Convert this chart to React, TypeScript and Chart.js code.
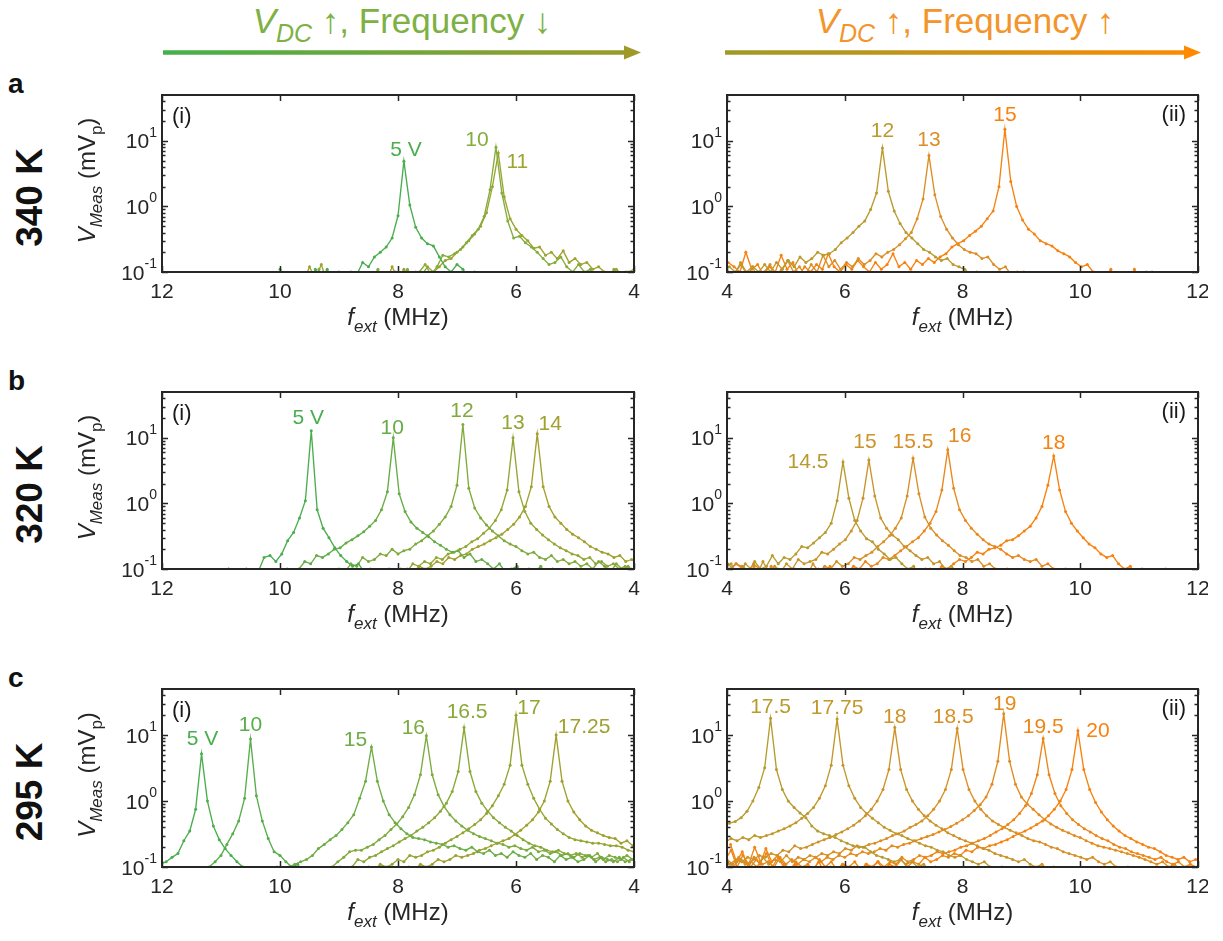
import React, { useEffect, useRef } from 'react';
import { Chart, registerables } from 'chart.js';

Chart.register(...registerables);

const FONT = '"Liberation Sans", Arial, Helvetica, sans-serif';
const AXIS = '#262626';
const FREQ_STEP = 0.1; // MHz between sweep points

// ---------------- 340 K ----------------
const a1Labels = ['5 V', '10', '11'];
const a1Start = [6.5, 4.04, 4.0];
const a1Values = [
  [0.07, 0.09, 0.1, 0.08, 0.11, 0.13, 0.1, 0.12, 0.17, 0.25, 0.27, 0.33, 0.48, 1.05, 4.9, 0.72, 0.33, 0.24, 0.2, 0.17, 0.12, 0.14, 0.09, 0.1, 0.08, 0.1, 0.07, 0.11, 0.08, 0.11, 0.07, 0.06, 0.07, 0.06, 0.07, 0.11],
  [0.08, 0.1, 0.08, 0.11, 0.08, 0.1, 0.08, 0.11, 0.1, 0.13, 0.1, 0.12, 0.17, 0.14, 0.13, 0.16, 0.2, 0.24, 0.28, 0.35, 0.33, 0.6, 1.6, 8.0, 1.8, 0.7, 0.45, 0.36, 0.28, 0.22, 0.19, 0.17, 0.18, 0.12, 0.09, 0.13, 0.1, 0.08, 0.11, 0.08, 0.1, 0.09, 0.07, 0.11, 0.08, 0.07, 0.09, 0.07, 0.06, 0.07, 0.06, 0.08, 0.06, 0.11, 0.07, 0.06],
  [0.11, 0.1, 0.09, 0.11, 0.09, 0.1, 0.12, 0.11, 0.14, 0.13, 0.16, 0.14, 0.21, 0.16, 0.2, 0.18, 0.24, 0.23, 0.3, 0.36, 0.45, 0.65, 1.4, 6.5, 2.0, 0.8, 0.5, 0.38, 0.3, 0.24, 0.2, 0.16, 0.15, 0.12, 0.1, 0.12, 0.09, 0.1, 0.08, 0.11, 0.08, 0.12, 0.07, 0.09, 0.07, 0.06, 0.07, 0.08, 0.06, 0.07, 0.06, 0.08, 0.07, 0.13, 0.08, 0.12, 0.07],
];

const a2Labels = ['12', '13', '15'];
const a2Start = [4.04, 4.03, 4.02];
const a2Values = [
  [0.12, 0.1, 0.13, 0.09, 0.12, 0.1, 0.13, 0.1, 0.14, 0.11, 0.15, 0.12, 0.17, 0.14, 0.16, 0.2, 0.18, 0.19, 0.22, 0.28, 0.33, 0.4, 0.5, 0.6, 0.9, 1.6, 7.8, 1.7, 0.85, 0.55, 0.4, 0.33, 0.27, 0.22, 0.2, 0.17, 0.15, 0.16, 0.13, 0.12, 0.11, 0.09, 0.1, 0.08, 0.09, 0.07, 0.08, 0.06, 0.07, 0.06, 0.1],
  [0.1, 0.09, 0.14, 0.1, 0.12, 0.08, 0.1, 0.13, 0.09, 0.11, 0.15, 0.1, 0.12, 0.09, 0.13, 0.1, 0.18, 0.12, 0.15, 0.11, 0.14, 0.12, 0.16, 0.13, 0.15, 0.19, 0.17, 0.2, 0.22, 0.26, 0.32, 0.4, 0.65, 1.3, 6.0, 1.5, 0.7, 0.45, 0.33, 0.26, 0.22, 0.2, 0.19, 0.16, 0.17, 0.13, 0.11, 0.12, 0.09, 0.1, 0.08, 0.09, 0.07, 0.08, 0.07, 0.06],
  [0.14, 0.12, 0.1, 0.2, 0.11, 0.13, 0.09, 0.12, 0.1, 0.18, 0.11, 0.14, 0.09, 0.12, 0.1, 0.13, 0.11, 0.19, 0.12, 0.1, 0.13, 0.11, 0.15, 0.12, 0.1, 0.14, 0.11, 0.13, 0.19, 0.12, 0.14, 0.11, 0.15, 0.13, 0.16, 0.14, 0.17, 0.19, 0.24, 0.27, 0.3, 0.36, 0.42, 0.5, 0.65, 0.85, 2.0, 15, 2.4, 1.0, 0.62, 0.45, 0.38, 0.3, 0.27, 0.25, 0.21, 0.19, 0.17, 0.14, 0.12, 0.13, 0.1, 0.09, 0.08, 0.11, 0.07, 0.08, 0.06, 0.11, 0.07, 0.1, 0.1],
];

// ---------------- 320 K ----------------
const b1Labels = ['5 V', '10', '12', '13', '14'];
const b1Start = [8.07, 4.98, 4.0, 4.05, 3.94];
const b1Values = [
  [0.07, 0.09, 0.07, 0.08, 0.1, 0.09, 0.12, 0.11, 0.13, 0.16, 0.21, 0.3, 0.42, 0.8, 12.8, 1.1, 0.6, 0.36, 0.27, 0.17, 0.13, 0.16, 0.15, 0.09, 0.08, 0.1, 0.07, 0.06, 0.1, 0.06],
  [0.1, 0.07, 0.09, 0.07, 0.1, 0.08, 0.11, 0.09, 0.1, 0.08, 0.11, 0.1, 0.09, 0.12, 0.1, 0.12, 0.14, 0.13, 0.17, 0.15, 0.19, 0.18, 0.2, 0.23, 0.26, 0.31, 0.36, 0.42, 0.52, 0.75, 1.4, 10, 1.5, 0.8, 0.55, 0.45, 0.37, 0.32, 0.28, 0.25, 0.21, 0.2, 0.17, 0.15, 0.16, 0.12, 0.13, 0.1, 0.09, 0.1, 0.08],
  [0.09, 0.11, 0.1, 0.12, 0.09, 0.11, 0.13, 0.1, 0.12, 0.11, 0.13, 0.12, 0.14, 0.13, 0.16, 0.14, 0.15, 0.18, 0.17, 0.19, 0.22, 0.24, 0.27, 0.32, 0.38, 0.47, 0.6, 0.85, 1.7, 16, 1.9, 0.9, 0.62, 0.48, 0.38, 0.32, 0.27, 0.24, 0.2, 0.19, 0.17, 0.2, 0.16, 0.17, 0.14, 0.13, 0.15, 0.11, 0.12, 0.09, 0.1, 0.08, 0.07],
  [0.1, 0.11, 0.1, 0.12, 0.11, 0.13, 0.12, 0.15, 0.14, 0.16, 0.17, 0.19, 0.21, 0.24, 0.28, 0.33, 0.4, 0.5, 0.75, 1.5, 10, 1.6, 0.8, 0.55, 0.42, 0.35, 0.29, 0.26, 0.22, 0.2, 0.18, 0.17, 0.14, 0.15, 0.12, 0.13, 0.11, 0.12, 0.09, 0.1, 0.08, 0.1, 0.07, 0.08, 0.06],
  [0.12, 0.14, 0.13, 0.16, 0.15, 0.17, 0.18, 0.2, 0.22, 0.26, 0.3, 0.34, 0.4, 0.5, 0.62, 0.9, 1.8, 11.5, 1.8, 0.9, 0.62, 0.48, 0.4, 0.34, 0.3, 0.27, 0.24, 0.22, 0.2, 0.17, 0.16, 0.14, 0.15, 0.12, 0.13, 0.11, 0.1, 0.11, 0.09, 0.1, 0.08],
];

const b2Labels = ['14.5', '15', '15.5', '16', '18'];
const b2Start = [3.97, 4.01, 4.06, 4.05, 6.95];
const b2Values = [
  [0.11, 0.12, 0.08, 0.11, 0.09, 0.13, 0.1, 0.11, 0.16, 0.12, 0.15, 0.14, 0.17, 0.22, 0.21, 0.25, 0.3, 0.36, 0.5, 1.1, 4.3, 1.2, 0.55, 0.38, 0.29, 0.26, 0.2, 0.17, 0.14, 0.15, 0.12, 0.1, 0.11, 0.08, 0.1, 0.07, 0.09, 0.07, 0.08, 0.06, 0.07],
  [0.12, 0.1, 0.08, 0.12, 0.1, 0.08, 0.13, 0.09, 0.11, 0.09, 0.12, 0.1, 0.14, 0.12, 0.13, 0.14, 0.18, 0.17, 0.2, 0.24, 0.28, 0.38, 0.55, 1.2, 4.6, 1.3, 0.6, 0.42, 0.33, 0.28, 0.22, 0.19, 0.16, 0.14, 0.15, 0.12, 0.13, 0.1, 0.11, 0.09, 0.1, 0.08, 0.09, 0.07, 0.08],
  [0.1, 0.12, 0.1, 0.08, 0.11, 0.07, 0.09, 0.08, 0.1, 0.07, 0.09, 0.08, 0.1, 0.08, 0.12, 0.09, 0.11, 0.1, 0.13, 0.11, 0.12, 0.15, 0.14, 0.16, 0.18, 0.22, 0.26, 0.32, 0.42, 0.6, 1.3, 4.9, 1.4, 0.62, 0.42, 0.33, 0.27, 0.23, 0.19, 0.16, 0.15, 0.13, 0.14, 0.11, 0.12, 0.1, 0.09, 0.1, 0.08, 0.09, 0.07],
  [0.1, 0.12, 0.11, 0.09, 0.12, 0.1, 0.08, 0.11, 0.07, 0.09, 0.08, 0.1, 0.07, 0.09, 0.08, 0.1, 0.09, 0.11, 0.08, 0.1, 0.09, 0.11, 0.1, 0.13, 0.11, 0.12, 0.15, 0.14, 0.16, 0.19, 0.22, 0.26, 0.3, 0.38, 0.5, 0.75, 1.6, 6.6, 1.7, 0.8, 0.55, 0.42, 0.34, 0.28, 0.24, 0.22, 0.2, 0.17, 0.15, 0.16, 0.14, 0.13, 0.14, 0.11, 0.12, 0.1, 0.09, 0.1, 0.08],
  [0.07, 0.08, 0.07, 0.09, 0.08, 0.1, 0.09, 0.11, 0.1, 0.12, 0.14, 0.13, 0.15, 0.18, 0.17, 0.2, 0.21, 0.23, 0.27, 0.28, 0.32, 0.38, 0.45, 0.6, 0.9, 1.9, 5.3, 1.6, 0.75, 0.5, 0.38, 0.3, 0.24, 0.21, 0.17, 0.15, 0.16, 0.12, 0.1, 0.11, 0.08, 0.1, 0.07, 0.09, 0.07, 0.1, 0.07],
];

// ---------------- 295 K ----------------
const c1Labels = ['5 V', '10', '15', '16', '16.5', '17', '17.25'];
const c1Start = [9.93, 9.5, 4.05, 4.02, 4.08, 3.9, 3.92];
const c1Values = [
  [0.06, 0.07, 0.06, 0.08, 0.07, 0.09, 0.08, 0.1, 0.12, 0.15, 0.19, 0.26, 0.42, 1.0, 5.2, 0.75, 0.35, 0.25, 0.16, 0.14, 0.12, 0.11],
  [0.09, 0.08, 0.11, 0.1, 0.12, 0.15, 0.17, 0.27, 0.5, 1.2, 8.7, 1.1, 0.5, 0.32, 0.22, 0.15, 0.12, 0.1, 0.08, 0.07, 0.06],
  [0.13, 0.12, 0.14, 0.12, 0.13, 0.14, 0.12, 0.15, 0.13, 0.12, 0.14, 0.13, 0.15, 0.12, 0.14, 0.15, 0.13, 0.16, 0.14, 0.15, 0.17, 0.14, 0.16, 0.15, 0.18, 0.16, 0.17, 0.2, 0.18, 0.19, 0.21, 0.2, 0.22, 0.23, 0.24, 0.26, 0.27, 0.28, 0.32, 0.38, 0.47, 0.62, 1.0, 2.0, 6.6, 2.0, 1.1, 0.62, 0.47, 0.37, 0.3, 0.26, 0.22, 0.19, 0.15, 0.13, 0.12, 0.11, 0.1, 0.09, 0.1, 0.08],
  [0.13, 0.15, 0.13, 0.14, 0.15, 0.13, 0.16, 0.14, 0.15, 0.16, 0.14, 0.16, 0.15, 0.17, 0.16, 0.18, 0.17, 0.2, 0.18, 0.19, 0.21, 0.2, 0.22, 0.23, 0.25, 0.27, 0.29, 0.32, 0.36, 0.42, 0.5, 0.62, 0.83, 1.25, 2.5, 9.8, 2.5, 1.25, 0.8, 0.58, 0.45, 0.37, 0.3, 0.26, 0.22, 0.2, 0.18, 0.18, 0.17, 0.14, 0.12, 0.1, 0.09],
  [0.12, 0.14, 0.12, 0.13, 0.12, 0.14, 0.13, 0.15, 0.14, 0.16, 0.15, 0.16, 0.18, 0.17, 0.18, 0.2, 0.21, 0.23, 0.26, 0.3, 0.35, 0.4, 0.47, 0.56, 0.7, 0.93, 1.4, 2.8, 13, 2.8, 1.4, 0.93, 0.7, 0.56, 0.47, 0.4, 0.35, 0.3, 0.27, 0.24, 0.21, 0.19, 0.17, 0.15, 0.14, 0.12, 0.13, 0.1, 0.09, 0.1, 0.08],
  [0.16, 0.17, 0.18, 0.2, 0.21, 0.21, 0.22, 0.23, 0.23, 0.24, 0.25, 0.26, 0.28, 0.32, 0.37, 0.45, 0.55, 0.75, 1.1, 1.8, 3.5, 20, 3.5, 1.8, 1.2, 0.85, 0.65, 0.52, 0.44, 0.38, 0.33, 0.29, 0.26, 0.23, 0.2, 0.18, 0.17, 0.15, 0.14, 0.15, 0.12, 0.13, 0.11, 0.1, 0.11, 0.09, 0.1, 0.08],
  [0.2, 0.21, 0.25, 0.23, 0.27, 0.28, 0.3, 0.33, 0.36, 0.42, 0.52, 0.68, 1.0, 2.0, 10, 2.0, 1.0, 0.68, 0.52, 0.43, 0.36, 0.31, 0.27, 0.25, 0.23, 0.21, 0.19, 0.18, 0.16, 0.15, 0.14, 0.15, 0.13, 0.12, 0.13, 0.11, 0.1, 0.11, 0.09, 0.1, 0.08],
];

const c2Labels = ['17.5', '17.75', '18', '18.5', '19', '19.5', '20'];
const c2Start = [3.94, 3.97, 3.95, 4.01, 4.0, 3.97, 4.06];
const c2Values = [
  [0.44, 0.46, 0.49, 0.56, 0.7, 1.0, 1.6, 3.2, 18, 3.0, 1.5, 1.0, 0.8, 0.66, 0.56, 0.42, 0.35, 0.32, 0.3, 0.28, 0.25, 0.23, 0.21, 0.2, 0.2, 0.17, 0.15, 0.14, 0.13, 0.12, 0.13, 0.11, 0.12, 0.1, 0.11, 0.09, 0.1, 0.08, 0.09, 0.07, 0.08],
  [0.24, 0.27, 0.25, 0.28, 0.26, 0.3, 0.28, 0.3, 0.32, 0.35, 0.38, 0.42, 0.47, 0.55, 0.65, 0.8, 1.1, 1.7, 3.5, 17.5, 3.5, 1.7, 1.1, 0.8, 0.65, 0.55, 0.47, 0.4, 0.36, 0.32, 0.3, 0.27, 0.25, 0.23, 0.21, 0.2, 0.18, 0.17, 0.15, 0.14, 0.15, 0.13, 0.12, 0.11, 0.12, 0.1, 0.09, 0.1, 0.08, 0.09, 0.07],
  [0.12, 0.11, 0.13, 0.12, 0.14, 0.13, 0.15, 0.14, 0.16, 0.15, 0.18, 0.17, 0.21, 0.19, 0.2, 0.22, 0.24, 0.26, 0.28, 0.31, 0.34, 0.38, 0.43, 0.5, 0.6, 0.75, 1.0, 1.5, 3.0, 13, 3.0, 1.5, 1.0, 0.75, 0.6, 0.5, 0.43, 0.38, 0.33, 0.3, 0.27, 0.25, 0.23, 0.21, 0.19, 0.18, 0.16, 0.15, 0.14, 0.13, 0.12, 0.13, 0.11, 0.1, 0.11, 0.09, 0.1, 0.08, 0.09, 0.07],
  [0.12, 0.1, 0.13, 0.11, 0.12, 0.1, 0.14, 0.11, 0.13, 0.12, 0.15, 0.12, 0.14, 0.13, 0.15, 0.14, 0.16, 0.15, 0.17, 0.16, 0.19, 0.18, 0.21, 0.2, 0.22, 0.23, 0.25, 0.27, 0.3, 0.32, 0.35, 0.4, 0.44, 0.5, 0.6, 0.75, 1.0, 1.5, 3.0, 12.6, 3.0, 1.5, 1.0, 0.75, 0.6, 0.5, 0.44, 0.4, 0.36, 0.33, 0.3, 0.27, 0.25, 0.24, 0.22, 0.2, 0.19, 0.17, 0.16, 0.15, 0.14, 0.13, 0.14, 0.12, 0.11, 0.12, 0.1, 0.09, 0.1, 0.08, 0.09],
  [0.13, 0.11, 0.14, 0.12, 0.1, 0.13, 0.11, 0.12, 0.1, 0.14, 0.11, 0.13, 0.11, 0.13, 0.12, 0.14, 0.12, 0.14, 0.13, 0.15, 0.14, 0.16, 0.15, 0.17, 0.16, 0.17, 0.19, 0.18, 0.21, 0.2, 0.22, 0.23, 0.25, 0.27, 0.29, 0.31, 0.34, 0.37, 0.41, 0.46, 0.52, 0.6, 0.72, 0.88, 1.15, 1.8, 4.0, 21, 4.0, 1.8, 1.15, 0.9, 0.75, 0.62, 0.52, 0.45, 0.4, 0.36, 0.33, 0.3, 0.28, 0.25, 0.23, 0.21, 0.2, 0.19, 0.18, 0.17, 0.16, 0.15, 0.14, 0.13, 0.12, 0.11, 0.12, 0.1, 0.11, 0.09, 0.1],
  [0.13, 0.18, 0.1, 0.15, 0.11, 0.2, 0.12, 0.16, 0.1, 0.14, 0.11, 0.09, 0.12, 0.1, 0.11, 0.09, 0.13, 0.1, 0.12, 0.09, 0.11, 0.1, 0.12, 0.09, 0.11, 0.1, 0.12, 0.1, 0.12, 0.11, 0.14, 0.12, 0.13, 0.15, 0.14, 0.15, 0.17, 0.16, 0.17, 0.18, 0.2, 0.21, 0.23, 0.25, 0.27, 0.3, 0.34, 0.38, 0.44, 0.52, 0.65, 0.85, 1.3, 2.5, 8.9, 2.5, 1.3, 0.85, 0.65, 0.52, 0.44, 0.38, 0.34, 0.3, 0.27, 0.25, 0.22, 0.2, 0.19, 0.17, 0.16, 0.15, 0.14, 0.13, 0.14, 0.12, 0.11, 0.12, 0.1, 0.11, 0.1],
  [0.22, 0.12, 0.17, 0.1, 0.14, 0.11, 0.19, 0.12, 0.15, 0.1, 0.09, 0.11, 0.08, 0.1, 0.09, 0.12, 0.08, 0.1, 0.09, 0.11, 0.08, 0.1, 0.09, 0.11, 0.1, 0.12, 0.09, 0.11, 0.1, 0.13, 0.1, 0.12, 0.11, 0.14, 0.12, 0.13, 0.15, 0.14, 0.16, 0.15, 0.18, 0.17, 0.2, 0.19, 0.21, 0.22, 0.24, 0.26, 0.29, 0.32, 0.35, 0.39, 0.44, 0.5, 0.6, 0.75, 1.0, 1.5, 3.0, 11.6, 3.0, 1.5, 0.95, 0.68, 0.52, 0.42, 0.35, 0.3, 0.27, 0.24, 0.22, 0.2, 0.19, 0.17, 0.15, 0.14, 0.13, 0.14, 0.12, 0.13, 0.12],
];

// Axis ticks
const X_TICKS = [4, 6, 8, 10, 12];
const Y_MAJOR = [0.1, 1, 10];
const Y_MAJOR_EXP = ['-1', '0', '1'];
const Y_MINOR = [0.2, 0.3, 0.4, 0.5, 0.6, 0.7, 0.8, 0.9, 2, 3, 4, 5, 6, 7, 8, 9, 20, 30, 40];

// Colours
const a1Colors = ['#4aae4f', '#83ad3d', '#9fa32f'];
const a2Colors = ['#bb9a2e', '#dc8e27', '#f7820f'];
const b1Colors = ['#4aae4f', '#65ad45', '#7fab3d', '#94a634', '#a2a02e'];
const b2Colors = ['#b89b2e', '#c9952a', '#d98f25', '#e9881c', '#f7820f'];
const c1Colors = ['#4aae4f', '#58ae4b', '#6cad45', '#7dab3e', '#8aa838', '#96a432', '#a1a02e'];
const c2Colors = ['#b69b2e', '#c1982b', '#cc9428', '#d89024', '#e48b1d', '#ee8616', '#f8820f'];

// Layout
const ROW_TOP = [95, 392, 689];
const ROW_H = [177, 177, 178];
const COL_LEFT = [162, 727];
const COL_W = [472, 471];
const PAD = { left: 110, right: 10, top: 25, bottom: 75 };

type Spec = {
  labels: string[];
  starts: number[];
  values: number[][];
  colors: string[];
  row: number;
  col: number;
  dx: number[];
  dy: number[];
};

const PANELS: Spec[] = [
  { labels: a1Labels, starts: a1Start, values: a1Values, colors: a1Colors, row: 0, col: 0, dx: [2, -19, 19], dy: [-11, -7, 9] },
  { labels: a2Labels, starts: a2Start, values: a2Values, colors: a2Colors, row: 0, col: 1, dx: [0, 0, 0], dy: [-17, -15, -14] },
  { labels: b1Labels, starts: b1Start, values: b1Values, colors: b1Colors, row: 1, col: 0, dx: [-3, -1, -1, 0, 13], dy: [-13, -10, -13, -15, -10] },
  { labels: b2Labels, starts: b2Start, values: b2Values, colors: b2Colors, row: 1, col: 1, dx: [-35, -4, 0, 12, 0], dy: [0, -18, -16, -13, -13] },
  { labels: c1Labels, starts: c1Start, values: c1Values, colors: c1Colors, row: 2, col: 0, dx: [1, 0, -16, -13, 3, 13, 28], dy: [-15, -14, -7, -7, -15, -7, -8] },
  { labels: c2Labels, starts: c2Start, values: c2Values, colors: c2Colors, row: 2, col: 1, dx: [0, 0, 0, -4, 1, 0, 20], dy: [-11, -11, -10, -11, -10, -11, 0] },
];

function toPoints(start: number, vals: number[]) {
  return vals.map((v, i) => ({ x: Math.round((start + i * FREQ_STEP) * 100) / 100, y: v }));
}

type Part = { t: string; italic?: boolean; size: number; dy?: number };

function drawParts(ctx: CanvasRenderingContext2D, parts: Part[], cx: number, baseY: number) {
  let total = 0;
  const widths = parts.map((p) => {
    ctx.font = `${p.italic ? 'italic ' : ''}${p.size}px ${FONT}`;
    const w = ctx.measureText(p.t).width;
    total += w;
    return w;
  });
  let x = cx - total / 2;
  ctx.textAlign = 'left';
  ctx.textBaseline = 'alphabetic';
  parts.forEach((p, i) => {
    ctx.font = `${p.italic ? 'italic ' : ''}${p.size}px ${FONT}`;
    ctx.fillText(p.t, x, baseY + (p.dy || 0));
    x += widths[i];
  });
}

function makeDecor(spec: Spec) {
  return {
    id: 'panelDecor',
    afterDatasetsDraw(chart: any) {
      const { ctx, chartArea } = chart;
      const { left, right, top, bottom } = chartArea;
      const xs = chart.scales.x;
      const ys = chart.scales.y;
      ctx.save();

      // voltage labels next to each resonance peak
      ctx.font = `21px ${FONT}`;
      ctx.textAlign = 'center';
      ctx.textBaseline = 'middle';
      chart.data.datasets.forEach((ds: any, i: number) => {
        let pk = ds.data[0];
        ds.data.forEach((p: any) => {
          if (p.y > pk.y) pk = p;
        });
        ctx.fillStyle = ds.borderColor;
        ctx.fillText(spec.labels[i], xs.getPixelForValue(pk.x) + spec.dx[i], ys.getPixelForValue(pk.y) + spec.dy[i]);
      });

      // axes box with inward ticks
      ctx.strokeStyle = AXIS;
      ctx.lineWidth = 1.5;
      ctx.beginPath();
      X_TICKS.forEach((t) => {
        const x = Math.round(xs.getPixelForValue(t)) + 0.5;
        ctx.moveTo(x, bottom);
        ctx.lineTo(x, bottom - 6);
        ctx.moveTo(x, top);
        ctx.lineTo(x, top + 6);
      });
      Y_MINOR.forEach((t) => {
        const y = Math.round(ys.getPixelForValue(t)) + 0.5;
        ctx.moveTo(left, y);
        ctx.lineTo(left + 3.5, y);
        ctx.moveTo(right, y);
        ctx.lineTo(right - 3.5, y);
      });
      Y_MAJOR.forEach((t) => {
        const y = Math.round(ys.getPixelForValue(t)) + 0.5;
        ctx.moveTo(left, y);
        ctx.lineTo(left + 6, y);
        ctx.moveTo(right, y);
        ctx.lineTo(right - 6, y);
      });
      ctx.stroke();
      ctx.lineWidth = 2;
      ctx.strokeRect(left, top, right - left, bottom - top);

      // tick labels
      ctx.fillStyle = AXIS;
      ctx.font = `21px ${FONT}`;
      ctx.textAlign = 'center';
      ctx.textBaseline = 'top';
      X_TICKS.forEach((t) => ctx.fillText(String(t), xs.getPixelForValue(t), bottom + 10));

      Y_MAJOR.forEach((t, i) => {
        const y = ys.getPixelForValue(t);
        ctx.font = `21px ${FONT}`;
        const bw = ctx.measureText('10').width;
        ctx.font = `14px ${FONT}`;
        const ew = ctx.measureText(Y_MAJOR_EXP[i]).width;
        const x0 = left - 5 - ew - bw;
        ctx.textAlign = 'left';
        ctx.textBaseline = 'alphabetic';
        ctx.font = `21px ${FONT}`;
        ctx.fillText('10', x0, y + 7.5);
        ctx.font = `14px ${FONT}`;
        ctx.fillText(Y_MAJOR_EXP[i], x0 + bw, y - 4);
      });

      // x-axis title
      drawParts(
        ctx,
        [
          { t: 'f', italic: true, size: 24 },
          { t: 'ext', italic: true, size: 17, dy: 7 },
          { t: ' (MHz)', size: 24 },
        ],
        (left + right) / 2,
        bottom + 53,
      );

      // y-axis title (left column only)
      if (spec.col === 0) {
        ctx.save();
        ctx.translate(left - 67, (top + bottom) / 2 - 3);
        ctx.rotate(-Math.PI / 2);
        drawParts(
          ctx,
          [
            { t: 'V', italic: true, size: 24 },
            { t: 'Meas', italic: true, size: 17, dy: 7 },
            { t: ' (mV', size: 24 },
            { t: 'p', size: 17, dy: 7 },
            { t: ')', size: 24 },
          ],
          0,
          0,
        );
        ctx.restore();
      }

      // panel tag
      ctx.fillStyle = '#1a1a1a';
      ctx.font = `22px ${FONT}`;
      ctx.textBaseline = 'middle';
      if (spec.col === 0) {
        ctx.textAlign = 'left';
        ctx.fillText('(i)', left + 10, top + 22);
      } else {
        ctx.textAlign = 'right';
        ctx.fillText('(ii)', right - 12, top + 20);
      }
      ctx.restore();
    },
  };
}

function Panel({ spec }: { spec: Spec }) {
  const ref = useRef<HTMLCanvasElement>(null);
  const w = COL_W[spec.col] + PAD.left + PAD.right;
  const h = ROW_H[spec.row] + PAD.top + PAD.bottom;
  const left = COL_LEFT[spec.col] - PAD.left;
  const top = ROW_TOP[spec.row] - PAD.top;

  useEffect(() => {
    if (!ref.current) return;
    const chart = new Chart(ref.current, {
      type: 'line',
      data: {
        datasets: spec.values.map((vals, i) => ({
          label: spec.labels[i],
          data: toPoints(spec.starts[i], vals),
          borderColor: spec.colors[i],
          backgroundColor: spec.colors[i],
          pointBackgroundColor: spec.colors[i],
          borderWidth: 1.35,
          pointRadius: 1.5,
          pointBorderWidth: 0,
          pointHoverRadius: 0,
          tension: 0,
          fill: false,
        })),
      },
      options: {
        responsive: false,
        animation: false,
        events: [],
        layout: { padding: PAD },
        scales: {
          x: { type: 'linear', min: 4, max: 12, reverse: spec.col === 0, display: false },
          y: { type: 'logarithmic', min: 0.1, max: 50, display: false },
        },
        plugins: { legend: { display: false }, tooltip: { enabled: false } },
      },
      plugins: [makeDecor(spec)],
    } as any);
    return () => chart.destroy();
  }, [spec]);

  return (
    <canvas
      ref={ref}
      width={w}
      height={h}
      style={{ position: 'absolute', left, top, width: w, height: h }}
    />
  );
}

const ROW_NAMES = ['340 K', '320 K', '295 K'];
const ROW_LETTERS = ['a', 'b', 'c'];

export default function App() {
  return (
    <div
      style={{
        position: 'absolute',
        left: 0,
        top: 0,
        width: 1223,
        height: 941,
        background: '#ffffff',
        overflow: 'hidden',
        fontFamily: FONT,
      }}
    >
      <svg width={1223} height={941} style={{ position: 'absolute', left: 0, top: 0 }}>
        <defs>
          <linearGradient id="arrowLeft" gradientUnits="userSpaceOnUse" x1={163} y1={0} x2={641} y2={0}>
            <stop offset="0" stopColor="#45b04a" />
            <stop offset="1" stopColor="#9d9a27" />
          </linearGradient>
          <linearGradient id="arrowRight" gradientUnits="userSpaceOnUse" x1={725} y1={0} x2={1201} y2={0}>
            <stop offset="0" stopColor="#9d9a27" />
            <stop offset="1" stopColor="#ff8a00" />
          </linearGradient>
        </defs>

        <text x={402} y={33} textAnchor="middle" fontSize={35} fill="#7db144" style={{ whiteSpace: 'pre' }}>
          <tspan fontStyle="italic">V</tspan>
          <tspan fontStyle="italic" fontSize={25} dy={9}>DC</tspan>
          <tspan dy={-9}>{' ↑, Frequency ↓'}</tspan>
        </text>
        <line x1={163} y1={52.5} x2={627} y2={52.5} stroke="url(#arrowLeft)" strokeWidth={4.5} />
        <polygon points="624,45.5 641,52.5 624,59.5" fill="#9d9a27" />

        <text x={965} y={33} textAnchor="middle" fontSize={35} fill="#f3952a" style={{ whiteSpace: 'pre' }}>
          <tspan fontStyle="italic">V</tspan>
          <tspan fontStyle="italic" fontSize={25} dy={9}>DC</tspan>
          <tspan dy={-9}>{' ↑, Frequency ↑'}</tspan>
        </text>
        <line x1={725} y1={52.5} x2={1187} y2={52.5} stroke="url(#arrowRight)" strokeWidth={4.5} />
        <polygon points="1184,45.5 1201,52.5 1184,59.5" fill="#ff8a00" />

        {ROW_TOP.map((t, i) => (
          <g key={i}>
            <text x={8} y={t - 2} fontSize={28} fontWeight="bold" fill="#111">
              {ROW_LETTERS[i]}
            </text>
            <text
              transform={`translate(42, ${t + ROW_H[i] / 2 + 14}) rotate(-90)`}
              textAnchor="middle"
              fontSize={37}
              fontWeight="bold"
              fill="#111"
            >
              {ROW_NAMES[i]}
            </text>
          </g>
        ))}
      </svg>
      {PANELS.map((p, i) => (
        <Panel key={i} spec={p} />
      ))}
    </div>
  );
}
